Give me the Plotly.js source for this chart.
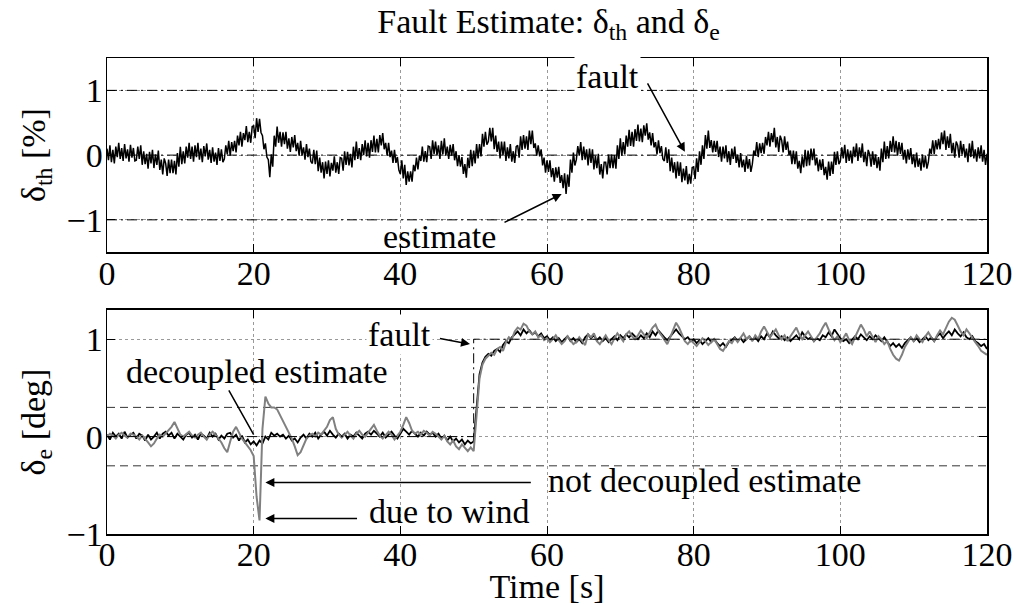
<!DOCTYPE html>
<html>
<head>
<meta charset="utf-8">
<script src="https://cdn.plot.ly/plotly-3.0.1.min.js"></script>
<style>html,body{margin:0;padding:0;background:#fff}#chart{width:1016px;height:605px}</style>
</head>
<body>
<div id="chart"></div>
<script>
// ---------- data ----------
const thStep = 0.2; // s, sampling grid of the delta_th record
const eStep = 0.4;  // s, sampling grid of the delta_e records
const thTime = Array.from({length: 601}, (_, i) => +(i * thStep).toFixed(1));
const eTime = Array.from({length: 301}, (_, i) => +(i * eStep).toFixed(1));

// delta_th estimate [%]
const thEstimate = [
  0.10,-0.08,0.15,-0.11,0.08,-0.13,0.13,-0.03,0.19,-0.06,0.11,-0.09,0.17,-0.05,0.09,-0.10,0.16,-0.04,0.11,-0.09,
  -0.08,0.13,-0.06,0.15,-0.15,0.06,-0.14,0.02,-0.21,0.05,-0.13,0.08,-0.20,0.01,-0.15,0.07,-0.23,-0.07,-0.30,-0.05,
  -0.13,-0.32,-0.07,-0.28,-0.07,-0.28,-0.09,-0.30,0.03,-0.18,0.13,-0.14,0.06,-0.13,0.13,-0.04,0.19,-0.06,0.13,-0.10,
  0.15,-0.03,0.19,-0.07,0.10,-0.11,0.14,-0.02,0.18,-0.07,0.08,-0.12,0.12,-0.10,0.04,-0.15,0.11,-0.09,0.09,-0.11,
  -0.06,0.15,0.01,0.22,-0.01,0.20,0.06,0.22,0.04,0.30,0.15,0.36,0.13,0.34,0.23,0.45,0.20,0.36,0.19,0.44,
  0.45,0.26,0.57,0.36,0.56,0.35,0.30,0.09,0.18,-0.03,-0.07,-0.34,0.01,-0.18,0.30,0.13,0.44,0.19,0.36,0.13,
  0.35,0.17,0.36,0.10,0.26,0.05,0.28,0.12,0.31,0.06,0.19,-0.01,0.22,0.00,0.12,-0.07,0.17,-0.03,0.10,-0.10,
  -0.13,0.08,-0.14,0.07,-0.25,-0.04,-0.27,-0.11,-0.36,-0.10,-0.29,-0.08,-0.33,-0.12,-0.24,-0.02,-0.27,-0.11,-0.29,-0.04,
  -0.05,-0.24,0.06,-0.15,0.05,-0.16,0.02,-0.19,0.13,-0.08,0.21,-0.06,0.11,-0.08,0.17,0.00,0.23,-0.02,0.19,-0.04,
  0.23,0.05,0.30,0.04,0.25,0.04,0.31,0.15,0.34,0.09,0.19,-0.01,0.19,-0.03,0.07,-0.12,0.08,-0.12,-0.03,-0.23,
  -0.29,-0.08,-0.36,-0.15,-0.46,-0.25,-0.41,-0.25,-0.41,-0.15,-0.25,-0.04,-0.22,-0.01,-0.09,0.13,-0.10,0.06,-0.11,0.14,
  0.13,-0.06,0.23,0.02,0.21,0.00,0.15,-0.06,0.22,0.01,0.26,-0.01,0.13,-0.06,0.16,-0.01,0.17,-0.08,0.06,-0.17,
  0.00,-0.18,-0.03,-0.29,-0.14,-0.35,-0.04,-0.20,0.08,-0.17,0.07,-0.13,0.17,-0.05,0.17,-0.02,0.33,0.13,0.36,0.16,
  0.21,0.42,0.21,0.42,0.09,0.30,0.05,0.21,-0.05,0.21,0.00,0.21,-0.09,0.12,-0.05,0.17,-0.10,0.06,-0.12,0.13,
  0.15,-0.04,0.29,0.08,0.31,0.10,0.29,0.08,0.38,0.17,0.38,0.11,0.18,-0.01,0.15,-0.02,0.09,-0.16,-0.04,-0.27,
  -0.08,-0.26,-0.08,-0.34,-0.20,-0.41,-0.19,-0.35,-0.18,-0.43,-0.31,-0.51,-0.28,-0.60,-0.30,-0.49,-0.07,-0.27,0.04,-0.16,
  -0.07,0.14,-0.01,0.20,-0.08,0.13,-0.07,0.09,-0.16,0.10,-0.12,0.09,-0.22,-0.01,-0.20,0.02,-0.30,-0.14,-0.36,-0.11,
  -0.11,-0.30,0.01,-0.20,0.01,-0.20,0.00,-0.21,0.15,-0.06,0.26,-0.01,0.20,0.01,0.30,0.13,0.39,0.14,0.36,0.13,
  0.40,0.22,0.47,0.21,0.41,0.20,0.46,0.30,0.49,0.24,0.35,0.15,0.34,0.12,0.20,0.01,0.23,0.03,0.14,-0.06,
  -0.09,0.12,-0.12,0.09,-0.25,-0.04,-0.27,-0.11,-0.36,-0.10,-0.32,-0.11,-0.42,-0.21,-0.39,-0.17,-0.45,-0.29,-0.44,-0.19,
  -0.18,-0.37,-0.05,-0.26,0.06,-0.15,0.15,-0.06,0.31,0.10,0.38,0.11,0.23,0.04,0.22,0.05,0.22,-0.03,0.13,-0.10,
  0.13,-0.05,0.15,-0.11,0.06,-0.15,0.10,-0.06,0.13,-0.12,0.01,-0.19,0.03,-0.19,-0.07,-0.26,-0.01,-0.21,-0.06,-0.26,
  -0.14,0.07,-0.01,0.20,-0.03,0.18,0.03,0.19,0.02,0.28,0.15,0.36,0.13,0.34,0.20,0.42,0.12,0.28,0.05,0.30,
  0.23,0.04,0.29,0.08,0.21,0.00,0.07,-0.14,0.07,-0.14,0.06,-0.21,-0.09,-0.28,-0.02,-0.19,0.08,-0.17,0.07,-0.16,
  0.10,-0.08,0.10,-0.16,-0.04,-0.25,-0.07,-0.23,-0.06,-0.31,-0.18,-0.38,-0.10,-0.32,-0.10,-0.29,0.05,-0.15,0.06,-0.14,
  -0.09,0.12,-0.05,0.16,-0.12,0.09,-0.09,0.07,-0.13,0.13,-0.03,0.18,-0.09,0.12,-0.04,0.18,-0.11,0.05,-0.17,0.08,
  0.01,-0.18,0.06,-0.15,0.01,-0.20,-0.03,-0.24,0.10,-0.11,0.21,-0.06,0.14,-0.05,0.22,0.05,0.29,0.04,0.22,-0.01,
  0.20,0.02,0.19,-0.07,0.08,-0.13,0.09,-0.07,0.11,-0.14,0.01,-0.19,0.04,-0.18,-0.05,-0.24,0.01,-0.19,-0.01,-0.21,
  -0.11,0.10,0.02,0.23,0.02,0.23,0.09,0.25,0.09,0.35,0.17,0.38,0.08,0.29,0.11,0.33,0.03,0.19,-0.04,0.21,
  0.15,-0.04,0.22,0.01,0.17,-0.04,0.10,-0.11,0.18,-0.03,0.22,-0.05,0.09,-0.10,0.12,-0.05,0.15,-0.10,0.08,-0.15,
  0.02
];

// delta_e decoupled estimate [deg]
const eDecoupled = [
  0.02,-0.03,0.04,0.00,0.03,-0.02,0.05,-0.01,0.02,0.04,
  -0.02,0.03,0.01,-0.04,0.02,-0.03,0.00,0.04,-0.02,0.03,
  0.05,0.01,0.04,-0.02,0.03,0.00,-0.03,0.02,0.04,-0.01,
  0.02,-0.03,0.03,0.01,-0.02,0.04,0.00,0.03,-0.03,0.01,
  -0.02,0.03,0.04,-0.01,0.02,-0.04,0.01,-0.06,-0.03,-0.08,
  -0.05,-0.09,-0.04,-0.07,0.00,-0.03,0.04,0.01,0.03,0.00,
  0.02,-0.02,0.01,-0.04,-0.02,-0.06,-0.01,0.02,-0.02,0.03,
  0.00,0.04,-0.02,0.02,0.05,0.01,0.06,0.02,-0.01,0.03,
  0.00,0.03,-0.02,0.02,0.00,0.04,0.01,-0.02,0.03,0.05,
  0.02,0.06,0.03,0.00,0.04,-0.01,0.02,0.05,0.01,-0.02,
  0.03,0.08,0.05,0.02,0.06,0.03,0.00,0.04,0.01,0.05,
  0.02,0.04,0.00,0.03,-0.02,0.01,-0.04,0.00,-0.05,-0.02,
  -0.06,-0.03,-0.08,-0.04,-0.07,-0.05,0.28,0.64,0.76,0.82,
  0.85,0.83,0.88,0.90,0.87,0.94,0.98,0.96,1.02,1.05,
  1.08,1.04,1.10,1.06,1.09,1.05,1.07,1.03,1.06,1.01,
  1.03,0.99,1.02,0.98,1.01,0.97,1.00,1.03,0.98,1.01,
  0.97,1.00,0.96,1.02,1.05,1.01,1.04,0.99,1.02,0.98,
  1.01,0.97,1.00,1.03,0.99,1.04,1.01,1.05,1.02,1.06,
  1.03,1.00,1.04,1.01,1.06,1.02,1.08,1.04,1.09,1.05,
  1.02,0.99,1.03,1.07,1.10,1.06,1.03,1.00,1.02,0.98,
  1.00,0.96,0.99,0.95,0.98,1.01,0.97,1.00,0.96,0.93,
  0.96,0.92,0.97,0.99,1.02,0.98,1.01,0.97,1.00,1.03,
  0.99,1.02,0.98,1.03,1.00,1.06,1.02,1.08,1.04,1.01,
  1.03,0.99,1.02,0.98,1.01,1.04,1.00,1.07,1.03,1.00,
  1.02,0.98,1.01,0.99,1.04,1.02,1.07,1.03,1.10,1.05,
  1.01,0.98,1.00,0.96,0.99,1.03,1.00,1.05,1.02,0.99,
  1.03,1.00,1.04,1.01,0.98,1.02,0.97,0.93,0.96,0.92,
  0.95,0.91,0.96,0.99,1.02,0.98,1.01,0.97,1.00,1.03,
  0.99,1.02,0.98,1.03,1.06,1.01,1.05,1.08,1.04,1.10,
  1.06,1.03,1.07,1.02,1.00,1.03,0.98,0.96,0.93,0.95,
  0.90
];

// delta_e not decoupled estimate [deg]
const eNotDecoupled = [
  0.00,0.03,0.01,-0.02,0.02,0.04,0.01,-0.01,0.03,0.02,
  0.00,-0.03,0.01,-0.02,-0.06,-0.10,-0.07,-0.02,0.02,0.00,
  0.03,0.06,0.10,0.15,0.08,0.02,0.00,0.03,0.05,0.01,
  -0.01,0.02,0.04,0.00,-0.03,0.02,0.05,0.02,-0.02,-0.06,
  -0.12,-0.16,-0.05,0.05,0.10,0.04,-0.02,-0.06,-0.10,-0.14,
  -0.20,-0.62,-0.86,0.08,0.41,0.34,0.30,0.30,0.28,0.22,
  0.16,0.10,0.04,-0.02,-0.10,-0.19,-0.16,-0.08,-0.02,0.01,
  0.03,0.00,0.04,0.02,0.06,0.10,0.17,0.20,0.08,0.02,
  -0.01,0.02,0.05,0.01,-0.02,0.03,0.06,0.02,0.00,0.04,
  0.08,0.12,0.06,0.01,-0.02,0.02,0.05,0.02,-0.03,0.01,
  0.05,0.12,0.20,0.14,0.06,0.03,0.05,0.02,0.06,0.04,
  0.01,0.05,0.03,0.00,-0.03,0.01,-0.05,-0.08,-0.04,-0.10,
  -0.13,-0.08,-0.12,-0.15,-0.11,-0.15,0.22,0.60,0.74,0.80,
  0.83,0.86,0.84,0.90,0.92,0.88,0.97,1.02,1.00,1.08,
  1.12,1.10,1.16,1.14,1.08,1.05,1.08,1.02,1.04,0.99,
  1.01,0.97,1.00,1.04,0.99,0.95,0.98,1.03,0.99,0.95,
  0.97,1.02,0.98,0.94,1.05,1.02,1.06,0.98,0.95,1.00,
  1.04,0.99,0.95,1.01,1.06,1.02,0.98,1.05,1.08,1.03,
  1.00,1.04,1.09,1.05,1.01,1.07,1.12,1.15,1.08,1.04,
  1.00,0.95,1.02,1.10,1.17,1.12,1.04,0.98,0.95,0.99,
  0.96,0.93,0.97,1.01,0.98,0.94,0.97,1.00,0.95,0.90,
  0.88,0.93,0.98,0.96,1.01,0.97,1.02,1.06,1.00,1.03,
  0.98,1.04,1.00,1.08,1.13,1.07,1.02,1.06,1.10,1.04,
  1.00,1.04,0.98,1.03,1.07,1.12,1.05,1.00,1.04,1.08,
  1.03,0.98,1.02,1.06,1.12,1.17,1.10,1.04,0.99,1.03,
  0.97,1.01,1.06,0.99,0.95,1.02,1.08,1.15,1.10,1.03,
  1.08,1.02,0.97,1.03,1.00,0.95,0.98,0.90,0.84,0.80,
  0.78,0.84,0.92,0.97,1.02,0.98,1.04,1.00,0.97,1.03,
  1.07,1.02,0.98,1.04,1.09,1.05,1.12,1.18,1.22,1.20,
  1.14,1.08,1.04,1.10,1.06,1.01,0.97,0.93,0.88,0.86,
  0.84
];

// injected faults and detection thresholds
const thFaultT = [0, 120];
const thFaultV = [0, 0];
const thThreshold = 1;
const eFaultT = [0, 50, 50, 120];
const eFaultV = [0, 0, 1, 1];
const eThreshold = 0.3;
const xRangeT = [0, 120];

// ---------- chart ----------
const FONT = 'Liberation Serif, Times New Roman, serif';
const dashDot = '10px,4px,2px,4px';

const traces = [
  {x: xRangeT, y: [thThreshold, thThreshold], xaxis: 'x', yaxis: 'y', mode: 'lines',
   line: {color: '#000', width: 1, dash: dashDot}, hoverinfo: 'skip'},
  {x: xRangeT, y: [-thThreshold, -thThreshold], xaxis: 'x', yaxis: 'y', mode: 'lines',
   line: {color: '#000', width: 1, dash: dashDot}, hoverinfo: 'skip'},
  {x: thTime, y: thEstimate, xaxis: 'x', yaxis: 'y', mode: 'lines', name: 'estimate',
   line: {color: '#000', width: 1.5}},
  {x: thFaultT, y: thFaultV, xaxis: 'x', yaxis: 'y', mode: 'lines', name: 'fault',
   line: {color: '#000', width: 1, dash: dashDot}},

  {x: xRangeT, y: [eThreshold, eThreshold], xaxis: 'x2', yaxis: 'y2', mode: 'lines',
   line: {color: '#333', width: 1, dash: '8px,5px'}, hoverinfo: 'skip'},
  {x: xRangeT, y: [-eThreshold, -eThreshold], xaxis: 'x2', yaxis: 'y2', mode: 'lines',
   line: {color: '#333', width: 1, dash: '8px,5px'}, hoverinfo: 'skip'},
  {x: eTime, y: eDecoupled, xaxis: 'x2', yaxis: 'y2', mode: 'lines', name: 'decoupled estimate',
   line: {color: '#000', width: 1.8}},
  {x: eTime, y: eNotDecoupled, xaxis: 'x2', yaxis: 'y2', mode: 'lines', name: 'not decoupled estimate',
   line: {color: '#808080', width: 2}},
  {x: eFaultT, y: eFaultV, xaxis: 'x2', yaxis: 'y2', mode: 'lines', name: 'fault',
   line: {color: '#000', width: 1, dash: dashDot}}
];

const axisCommon = {
  showline: true, linecolor: '#000', linewidth: 1.5, mirror: 'ticks',
  ticks: 'inside', ticklen: 8, tickwidth: 1, tickcolor: '#000',
  showgrid: true, griddash: 'dot', gridcolor: '#9a9a9a', gridwidth: 1,
  zeroline: false, tickfont: {family: FONT, size: 34, color: '#000'}
};

const layout = {
  width: 1016, height: 605,
  margin: {l: 107, r: 29, t: 58, b: 71},
  paper_bgcolor: '#fff', plot_bgcolor: '#fff',
  showlegend: false,
  font: {family: FONT, size: 34, color: '#000'},
  title: {text: 'Fault Estimate: δ<sub>th</sub> and δ<sub>e</sub>',
          font: {family: FONT, size: 34, color: '#000'},
          x: 0.54, xanchor: 'center', y: 0.965, yanchor: 'middle', yref: 'container'},
  xaxis: Object.assign({}, axisCommon, {domain: [0, 1], anchor: 'y', range: [0, 120], dtick: 20, tick0: 0,
          ticklabelstandoff: -10}),
  yaxis: Object.assign({}, axisCommon, {domain: [0.592, 1], anchor: 'x', range: [-1.5, 1.5], dtick: 1, tick0: 0,
          ticklabelstandoff: -4,
          title: {text: 'δ<sub>th</sub> [%]', font: {family: FONT, size: 34}, standoff: 10}}),
  xaxis2: Object.assign({}, axisCommon, {domain: [0, 1], anchor: 'y2', range: [0, 120], dtick: 20, tick0: 0,
          ticklabelstandoff: -10,
          title: {text: 'Time [s]', font: {family: FONT, size: 34}, standoff: 12}}),
  yaxis2: Object.assign({}, axisCommon, {domain: [0, 0.4706], anchor: 'x2', range: [-1, 1.3], dtick: 1, tick0: 0,
          ticklabelstandoff: -4,
          title: {text: 'δ<sub>e</sub> [deg]', font: {family: FONT, size: 34}, standoff: 10}}),
  annotations: [
    // top subplot
    {xref: 'x', yref: 'y', x: 68.3, y: 1.22, text: 'fault', showarrow: false, bgcolor: '#fff',
     xanchor: 'center', yanchor: 'middle', font: {family: FONT, size: 34}},
    {xref: 'x', yref: 'y', x: 78.8, y: 0.05, axref: 'x', ayref: 'y', ax: 73.6, ay: 1.13, text: '',
     showarrow: true, arrowhead: 2, arrowsize: 1.2, arrowwidth: 1.5, arrowcolor: '#000', standoff: 0},
    {xref: 'x', yref: 'y', x: 45.3, y: -1.26, text: 'estimate', showarrow: false,
     xanchor: 'center', yanchor: 'middle', font: {family: FONT, size: 34}},
    {xref: 'x', yref: 'y', x: 62.0, y: -0.6, axref: 'x', ayref: 'y', ax: 54.0, ay: -1.05, text: '',
     showarrow: true, arrowhead: 2, arrowsize: 1.2, arrowwidth: 1.5, arrowcolor: '#000', standoff: 0},
    // bottom subplot
    {xref: 'x2', yref: 'y2', x: 39.9, y: 1.05, text: 'fault', showarrow: false, bgcolor: '#fff',
     xanchor: 'center', yanchor: 'middle', font: {family: FONT, size: 34}},
    {xref: 'x2', yref: 'y2', x: 49.5, y: 0.95, axref: 'x2', ayref: 'y2', ax: 45.2, ay: 1.01, text: '',
     showarrow: true, arrowhead: 2, arrowsize: 1.2, arrowwidth: 1.5, arrowcolor: '#000', standoff: 0},
    {xref: 'x2', yref: 'y2', x: 20.5, y: 0.67, text: 'decoupled estimate', showarrow: false,
     xanchor: 'center', yanchor: 'middle', font: {family: FONT, size: 34}},
    {xref: 'x2', yref: 'y2', x: 20.0, y: 0.02, axref: 'x2', ayref: 'y2', ax: 16.5, ay: 0.49, text: '',
     showarrow: true, arrowhead: 0, arrowwidth: 1.5, arrowcolor: '#000', standoff: 0},
    {xref: 'x2', yref: 'y2', x: 81.5, y: -0.45, text: 'not decoupled estimate', showarrow: false,
     xanchor: 'center', yanchor: 'middle', font: {family: FONT, size: 34}},
    {xref: 'x2', yref: 'y2', x: 21.6, y: -0.47, axref: 'x2', ayref: 'y2', ax: 58.0, ay: -0.47, text: '',
     showarrow: true, arrowhead: 2, arrowsize: 1.2, arrowwidth: 1.5, arrowcolor: '#000', standoff: 0},
    {xref: 'x2', yref: 'y2', x: 46.7, y: -0.77, text: 'due to wind', showarrow: false,
     xanchor: 'center', yanchor: 'middle', font: {family: FONT, size: 34}},
    {xref: 'x2', yref: 'y2', x: 21.6, y: -0.84, axref: 'x2', ayref: 'y2', ax: 34.3, ay: -0.84, text: '',
     showarrow: true, arrowhead: 2, arrowsize: 1.2, arrowwidth: 1.5, arrowcolor: '#000', standoff: 0}
  ]
};

Plotly.newPlot('chart', traces, layout, {displayModeBar: false, staticPlot: true});
</script>
</body>
</html>
